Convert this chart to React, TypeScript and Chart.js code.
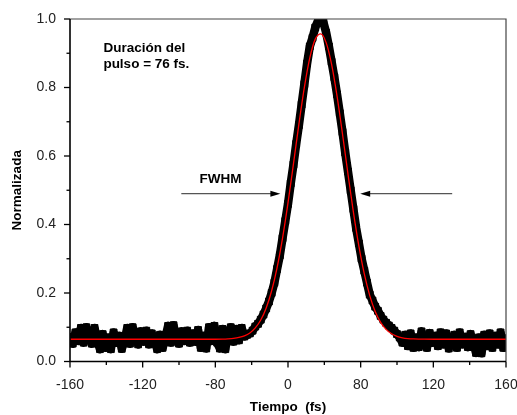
import React, { useEffect, useRef } from "react";
import { Chart, registerables } from "chart.js";

Chart.register(...registerables);

// ---------- data ----------
const timeFs = [
  -160, -158, -156, -154, -152, -150, -148, -146, -144, -142,
  -140, -138, -136, -134, -132, -130, -128, -126, -124, -122,
  -120, -118, -116, -114, -112, -110, -108, -106, -104, -102,
  -100, -98, -96, -94, -92, -90, -88, -86, -84, -82,
  -80, -78, -76, -74, -72, -70, -68, -66, -64, -62,
  -60, -58, -56, -54, -52, -50, -48, -46, -44, -42,
  -40, -38, -36, -34, -32, -30, -28, -26, -24, -22,
  -20, -18, -16, -14, -12, -10, -8, -6, -4, -2,
  0, 2, 4, 6, 8, 10, 12, 14, 16, 18,
  20, 22, 24, 26, 28, 30, 32, 34, 36, 38,
  40, 42, 44, 46, 48, 50, 52, 54, 56, 58,
  60, 62, 64, 66, 68, 70, 72, 74, 76, 78,
  80, 82, 84, 86, 88, 90, 92, 94, 96, 98,
  100, 102, 104, 106, 108, 110, 112, 114, 116, 118,
  120, 122, 124, 126, 128, 130, 132, 134, 136, 138,
  140, 142, 144, 146, 148, 150, 152, 154, 156, 158,
  160,
];

const signal = [
  0.072, 0.052, 0.085, 0.060, 0.098, 0.055, 0.100, 0.070, 0.052, 0.098,
  0.062, 0.036, 0.080, 0.040, 0.070, 0.036, 0.085, 0.055, 0.075, 0.037,
  0.060, 0.098, 0.052, 0.100, 0.065, 0.050, 0.088, 0.058, 0.090, 0.050,
  0.082, 0.062, 0.036, 0.078, 0.040, 0.070, 0.104, 0.055, 0.106, 0.065,
  0.052, 0.088, 0.060, 0.090, 0.055, 0.082, 0.058, 0.092, 0.040, 0.075,
  0.038, 0.100, 0.060, 0.104, 0.055, 0.038, 0.095, 0.036, 0.085, 0.100,
  0.058, 0.095, 0.062, 0.098, 0.073, 0.078, 0.082, 0.090, 0.102, 0.110,
  0.122, 0.137, 0.155, 0.175, 0.200, 0.230, 0.270, 0.310, 0.360, 0.410,
  0.460, 0.520, 0.575, 0.635, 0.690, 0.750, 0.810, 0.870, 0.920, 0.945,
  0.975, 0.995, 1.000, 0.990, 0.960, 0.920, 0.875, 0.830, 0.780, 0.725,
  0.670, 0.610, 0.555, 0.500, 0.445, 0.390, 0.345, 0.300, 0.265, 0.230,
  0.195, 0.178, 0.160, 0.148, 0.133, 0.122, 0.113, 0.105, 0.098, 0.090,
  0.080, 0.070, 0.055, 0.078, 0.045, 0.082, 0.040, 0.070, 0.042, 0.088,
  0.048, 0.040, 0.083, 0.055, 0.075, 0.045, 0.085, 0.050, 0.082, 0.038,
  0.065, 0.078, 0.040, 0.085, 0.050, 0.072, 0.042, 0.080, 0.055, 0.025,
  0.070, 0.024, 0.078, 0.045, 0.082, 0.040, 0.075, 0.050, 0.085, 0.040,
  0.068,
];

const fitTime = [
  -160, -60, -48, -44, -40, -36, -32, -28, -24, -20, -16, -12, -8, -4,
  0, 4, 8, 12, 16, 20, 24, 28, 32, 36, 40, 44, 48, 52, 56, 60, 64, 68,
  72, 76, 80, 84, 88, 92, 100, 112, 160,
];
const fitValue = [
  0.065, 0.065, 0.0655, 0.0662, 0.0675, 0.0701, 0.0749, 0.0835, 0.098, 0.1212,
  0.1563, 0.2066, 0.2744, 0.3605, 0.4631, 0.5768, 0.693, 0.8003, 0.8866, 0.9412,
  0.9566, 0.931, 0.8676, 0.7749, 0.6643, 0.5478, 0.4362, 0.3373, 0.2556, 0.1924,
  0.1462, 0.1144, 0.0937, 0.0809, 0.0734, 0.0693, 0.067, 0.0659, 0.0651, 0.065,
  0.065,
];

const xTickLabels = ["-160", "-120", "-80", "0", "80", "120", "160"];
const yTickValues = [0, 0.2, 0.4, 0.6, 0.8, 1.0];
const yTickLabels = ["0.0", "0.2", "0.4", "0.6", "0.8", "1.0"];
const xAxisTitle = "Tiempo  (fs)";
const yAxisTitle = "Normalizada";
const noteLines = ["Duración del", "pulso = 76 fs."];
const fwhmLabel = "FWHM";

// ---------- layout / style ----------
const X_MIN = -160;
const X_MAX = 160;
const FONT = 'Arial, "Liberation Sans", sans-serif';

const annot = {
  noteX: -135.5,
  noteY: [0.914, 0.867],
  fwhmX: -49.5,
  fwhmY: 0.532,
  arrowY: 0.49,
  leftTail: -78.3,
  leftTip: -5.6,
  rightTip: 53,
  rightTail: 120.5,
};

const decor = {
  id: "decor",
  afterDraw(chart: any) {
    const { ctx, chartArea: a, scales } = chart;
    const xs = scales.x;
    const ys = scales.y;
    const seg = (x1: number, y1: number, x2: number, y2: number) => {
      ctx.beginPath();
      ctx.moveTo(x1, y1);
      ctx.lineTo(x2, y2);
      ctx.stroke();
    };
    ctx.save();
    // frame
    ctx.strokeStyle = "#444";
    ctx.lineWidth = 1.2;
    ctx.beginPath();
    ctx.moveTo(a.left, a.top);
    ctx.lineTo(a.right, a.top);
    ctx.lineTo(a.right, a.bottom);
    ctx.stroke();
    ctx.strokeStyle = "#000";
    ctx.lineWidth = 1.6;
    ctx.beginPath();
    ctx.moveTo(a.left, a.top);
    ctx.lineTo(a.left, a.bottom);
    ctx.lineTo(a.right, a.bottom);
    ctx.stroke();

    // ticks
    ctx.lineWidth = 1.3;
    const xt = xs.ticks.map((t: any) => t.value);
    xt.forEach((v: number, i: number) => {
      const px = xs.getPixelForValue(v);
      seg(px, a.bottom, px, a.bottom + 6);
      if (i < xt.length - 1) {
        const pm = xs.getPixelForValue((v + xt[i + 1]) / 2);
        seg(pm, a.bottom, pm, a.bottom + 3.5);
      }
    });
    const yt = ys.ticks.map((t: any) => t.value);
    yt.forEach((v: number, i: number) => {
      const py = ys.getPixelForValue(v);
      seg(a.left, py, a.left - 6, py);
      if (i < yt.length - 1) {
        const pm = ys.getPixelForValue((v + yt[i + 1]) / 2);
        seg(a.left, pm, a.left - 3.5, pm);
      }
    });

    // text annotations
    ctx.fillStyle = "#000";
    ctx.font = `bold 13.5px ${FONT}`;
    ctx.textBaseline = "middle";
    ctx.textAlign = "left";
    noteLines.forEach((t, i) => {
      ctx.fillText(t, xs.getPixelForValue(annot.noteX), ys.getPixelForValue(annot.noteY[i]));
    });
    ctx.textAlign = "center";
    ctx.fillText(fwhmLabel, xs.getPixelForValue(annot.fwhmX), ys.getPixelForValue(annot.fwhmY));

    // arrows
    const ay = ys.getPixelForValue(annot.arrowY);
    const drawArrow = (tail: number, tip: number) => {
      const xt0 = xs.getPixelForValue(tail);
      const xt1 = xs.getPixelForValue(tip);
      const dir = Math.sign(xt1 - xt0);
      ctx.strokeStyle = "#555";
      ctx.lineWidth = 1.2;
      seg(xt0, ay, xt1 - dir * 8, ay);
      ctx.fillStyle = "#000";
      ctx.beginPath();
      ctx.moveTo(xt1, ay);
      ctx.lineTo(xt1 - dir * 10, ay - 3);
      ctx.lineTo(xt1 - dir * 10, ay + 3);
      ctx.closePath();
      ctx.fill();
    };
    drawArrow(annot.leftTail, annot.leftTip);
    drawArrow(annot.rightTail, annot.rightTip);
    ctx.restore();
  },
};

export default function App() {
  const ref = useRef<HTMLCanvasElement>(null);
  useEffect(() => {
    document.body.style.margin = "0";
    const chart = new Chart(ref.current as HTMLCanvasElement, {
      type: "line",
      data: {
        datasets: [
          {
            label: "Ajuste",
            data: fitTime.map((x, i) => ({ x, y: fitValue[i] })),
            borderColor: "#ff0000",
            borderWidth: 1.3,
            pointRadius: 0,
            cubicInterpolationMode: "monotone",
            order: 0,
          },
          {
            label: "Medida",
            data: timeFs.map((x, i) => ({ x, y: signal[i] })),
            borderColor: "#000",
            backgroundColor: "#000",
            borderWidth: 8.5,
            borderJoinStyle: "round",
            pointStyle: "rect",
            pointRadius: 4.8,
            pointBorderWidth: 1,
            pointBackgroundColor: "#000",
            pointBorderColor: "#000",
            order: 1,
          },
        ],
      } as any,
      options: {
        responsive: false,
        animation: false,
        devicePixelRatio: 1,
        layout: { padding: { top: 19, right: 11, left: 0, bottom: 0 } },
        plugins: { legend: { display: false }, tooltip: { enabled: false } },
        scales: {
          x: {
            type: "linear",
            min: X_MIN,
            max: X_MAX,
            afterBuildTicks: (s: any) => {
              s.ticks = xTickLabels.map((_, i) => ({
                value: X_MIN + (i * (X_MAX - X_MIN)) / (xTickLabels.length - 1),
              }));
            },
            afterFit: (s: any) => {
              s.height = 53.5;
              s.paddingLeft = 0;
              s.paddingRight = 0;
            },
            grid: {
              display: true,
              drawOnChartArea: false,
              color: "rgba(0,0,0,0)",
              tickColor: "rgba(0,0,0,0)",
              tickLength: 6,
            },
            border: { display: false },
            ticks: {
              autoSkip: false,
              maxRotation: 0,
              padding: 9,
              color: "#222",
              font: { family: FONT, size: 14 },
              callback: (_v: any, i: number) => xTickLabels[i],
            },
            title: {
              display: true,
              text: xAxisTitle,
              color: "#000",
              font: { family: FONT, size: 13.5, weight: "bold" },
              padding: { top: 0, bottom: 0 },
            },
          },
          y: {
            type: "linear",
            min: 0,
            max: 1,
            afterBuildTicks: (s: any) => {
              s.ticks = yTickValues.map((v) => ({ value: v }));
            },
            afterFit: (s: any) => {
              s.width = 70;
              s.paddingTop = 0;
              s.paddingBottom = 0;
            },
            grid: {
              display: true,
              drawOnChartArea: false,
              color: "rgba(0,0,0,0)",
              tickColor: "rgba(0,0,0,0)",
              tickLength: 6,
            },
            border: { display: false },
            ticks: {
              autoSkip: false,
              padding: 8,
              color: "#222",
              font: { family: FONT, size: 14 },
              callback: (_v: any, i: number) => yTickLabels[i],
            },
            title: {
              display: true,
              text: yAxisTitle,
              color: "#000",
              font: { family: FONT, size: 13.5, weight: "bold" },
              padding: { top: 9, bottom: 0 },
            },
          },
        },
      } as any,
      plugins: [decor],
    });
    return () => chart.destroy();
  }, []);
  return (
    <div style={{ width: 517, height: 415 }}>
      <canvas ref={ref} width={517} height={415} />
    </div>
  );
}
